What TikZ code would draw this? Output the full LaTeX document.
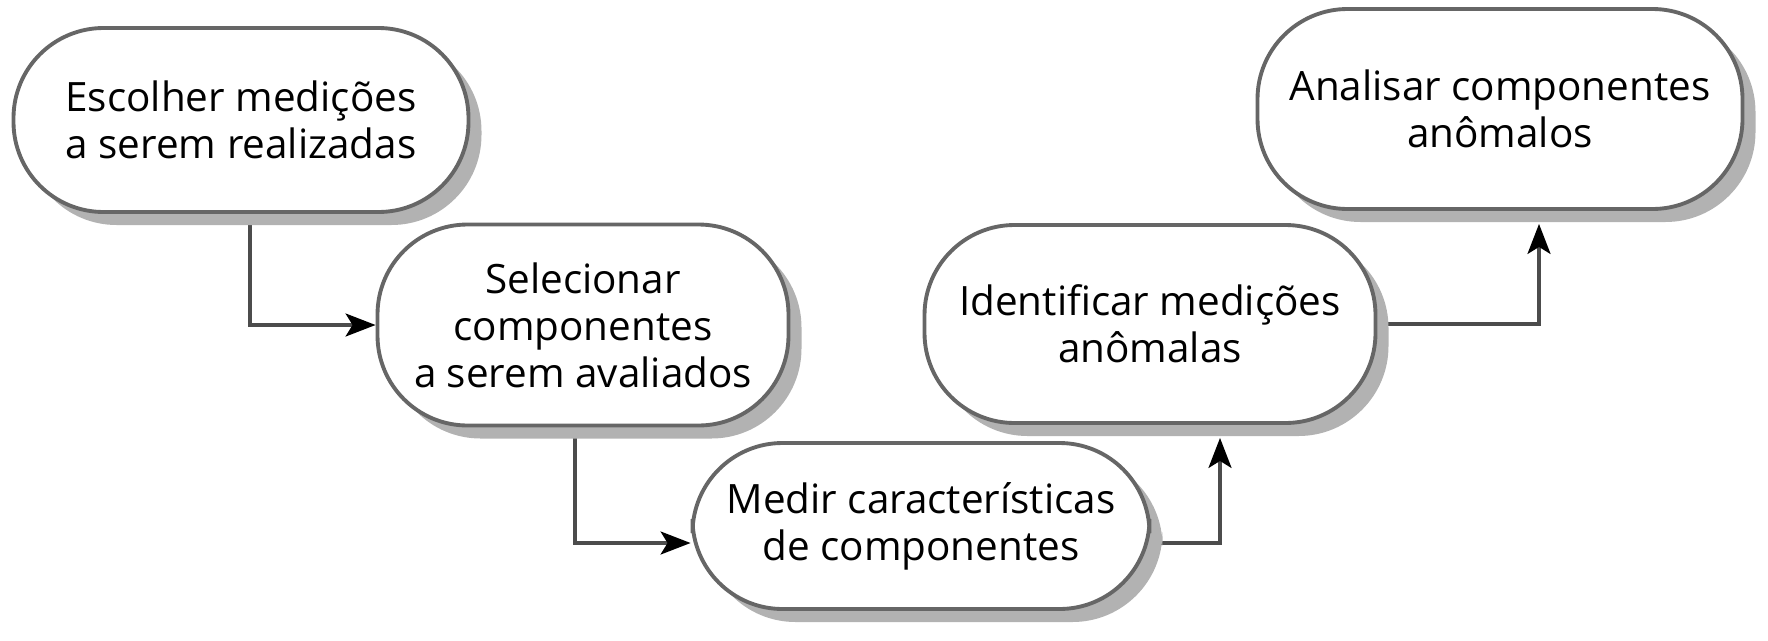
\documentclass[tikz,border=0pt]{standalone}
\usepackage{fontspec}
\setmainfont{Open Sans}
\usetikzlibrary{arrows.meta, shadows, calc, backgrounds}
\tikzset{
    my-step-box/.style={
        draw=black!60, line width=1.1pt, fill=white, rounded corners=9mm,
        align=center, inner sep=0pt, font=\fontsize{11.5}{13.4}\selectfont,
        drop shadow={shadow xshift=1.3mm, shadow yshift=-1.3mm, fill=black!30, opacity=1}
    },
    my-arrow/.style={
        draw=black!70, line width=0.9pt,
        -{Stealth[length=3mm, width=2.3mm, inset=0.7mm, black]}
    },
}

\begin{document}
\begin{tikzpicture}[x=0.1mm, y=-0.1mm]

        % PAGE SIZE
        \useasboundingbox (0,0) rectangle (1768,640);

        % STEPS ---------------------------------------------------------------------------------------
        \node[my-step-box, minimum width=45.5mm, minimum height=18.4mm] (ESC) at (241,120)              {Escolher medições\\a serem realizadas};
        \node[my-step-box, minimum width=41.1mm, minimum height=20.1mm] (SEL) at ($(ESC) + (342,205)$)  {Selecionar\\componentes\\a serem avaliados};
        \node[my-step-box, minimum width=45.7mm, minimum height=16.6mm] (MED) at ($(SEL) + (338,201)$)  {Medir características\\de componentes};
        \node[my-step-box, minimum width=45.1mm, minimum height=19.8mm] (IDE) at ($(MED) + (229,-202)$) {Identificar medições\\anômalas};
        \node[my-step-box, minimum width=48.5mm, minimum height=20.0mm] (ANA) at ($(IDE) + (350,-215)$) {Analisar componentes\\anômalos};

        % CONNECTIONS (UP ARROWS STOP AT THE SHADOW)
        \begin{scope}[on background layer]
            \draw[my-arrow] ($(ESC.south) + (9,0)$)  |- (SEL.west);
            \draw[my-arrow] ($(SEL.south) + (-8,0)$) |- ($(MED.west) + (0,17)$);
            \draw[my-arrow] ($(MED.east) + (0,17)$)  -| ($(IDE.south) + (70,13)$);
            \draw[my-arrow] (IDE.east)               -| ($(ANA.south) + (39,13)$);
        \end{scope}

\end{tikzpicture}
\end{document}
